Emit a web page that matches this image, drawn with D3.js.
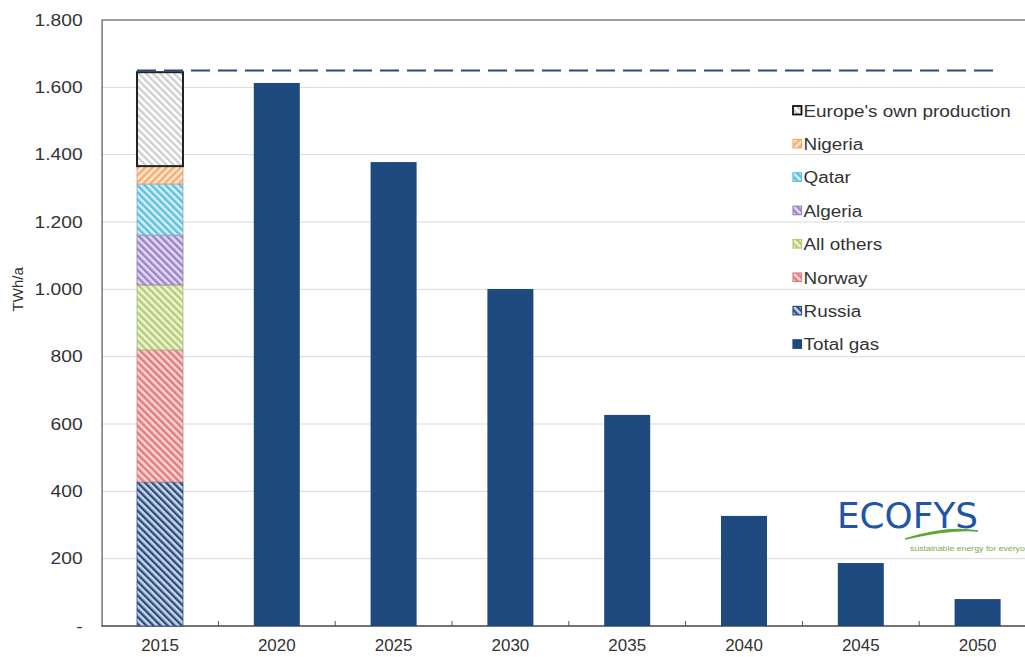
<!DOCTYPE html>
<html><head><meta charset="utf-8">
<script src="https://cdn.jsdelivr.net/npm/d3@7"></script>
<style>
html,body{margin:0;padding:0;background:#fff;overflow:hidden}
svg{display:block;font-family:"Liberation Sans",Arial,sans-serif}
</style></head>
<body>
<svg id="c" width="1025" height="657"></svg>
<script>
const years = ["2015","2020","2025","2030","2035","2040","2045","2050"];
const totalGas = [null,1613,1378,1001,627,327,187,80];
const sources2015 = ["Russia","Norway","All others","Algeria","Qatar","Nigeria","Europe's own production"];
const values2015 = [428,392,193,148,152,53,279];
const referenceLevel = 1650;
const yTicks = [0,200,400,600,800,1000,1200,1400,1600,1800];
const legendItems = ["Europe's own production","Nigeria","Qatar","Algeria","All others","Norway","Russia","Total gas"];

const style = {
  "Russia":{bg:"#c9d6ea",fg:"#2b4c7e",stroke:"#3b5680",dir:1},
  "Norway":{bg:"#f7d2d0",fg:"#de7d7a",stroke:"#c98c8a",dir:1},
  "All others":{bg:"#eef3d6",fg:"#b4cc72",stroke:"#a8b88a",dir:1},
  "Algeria":{bg:"#e2d8f0",fg:"#9a82c6",stroke:"#8f83aa",dir:1},
  "Qatar":{bg:"#d2eef6",fg:"#5ebfd9",stroke:"#8aaec0",dir:1},
  "Nigeria":{bg:"#fde6cf",fg:"#f3ad6c",stroke:"#c9a58a",dir:-1},
  "Europe's own production":{bg:"#ffffff",fg:"#cfcfcf",stroke:"#222",dir:1},
  "Total gas":{solid:"#1f4a7f"}
};

const svg = d3.select("#c");
const W=1025,H=657;
const x0=101.6, x1=1036, yTop=20, yBot=626;
const x = d3.scaleBand().domain(years).range([x0,x1]).paddingInner(0.606).paddingOuter(0.303);
const y = d3.scaleLinear().domain([0,1800]).range([yBot,yTop]);

function stretch(sel, f){
  sel.each(function(){
    const L = this.getComputedTextLength();
    d3.select(this).attr("textLength", L*f).attr("lengthAdjust","spacingAndGlyphs");
  });
}

const defs = svg.append("defs");
Object.entries(style).forEach(([k,s],i)=>{
  if(s.solid) return;
  const p = defs.append("pattern").attr("id","pat"+i).attr("patternUnits","userSpaceOnUse")
    .attr("width",5).attr("height",5).attr("patternTransform","rotate("+(s.dir>0?-45:45)+")");
  p.append("rect").attr("width",5).attr("height",5).attr("fill",s.bg);
  p.append("rect").attr("width",2.4).attr("height",5).attr("fill",s.fg);
  s.fill="url(#pat"+i+")";
});
style["Total gas"].fill = style["Total gas"].solid;

// gridlines
svg.append("g").selectAll("line").data(yTicks.filter(d=>d>0)).join("line")
  .attr("x1",x0).attr("x2",W).attr("y1",d=>y(d)).attr("y2",d=>y(d))
  .attr("stroke","#d9d9d9").attr("stroke-width",1);

// y axis
const yAxis = svg.append("g").attr("transform","translate("+x0+",0)")
  .call(d3.axisLeft(y).tickValues(yTicks).tickSize(0).tickPadding(19)
    .tickFormat(d=>d===0?"-":d3.format(",")(d).replace(/,/g,".")));
yAxis.select(".domain").attr("stroke","#555").attr("stroke-width",1.2);
yAxis.selectAll("text").attr("font-size",16).attr("fill","#333").attr("font-family","Liberation Sans, Arial, sans-serif");
stretch(yAxis.selectAll("text"),1.2);

// top frame
svg.append("line").attr("x1",x0).attr("x2",W).attr("y1",yTop).attr("y2",yTop).attr("stroke","#555").attr("stroke-width",1.2);

// x axis
const xAxis = svg.append("g").attr("transform","translate(0,"+yBot+")")
  .call(d3.axisBottom(x).tickSize(0).tickPadding(14));
xAxis.select(".domain").remove();
svg.append("line").attr("x1",x0).attr("x2",W).attr("y1",yBot).attr("y2",yBot).attr("stroke","#444").attr("stroke-width",1.4);
xAxis.selectAll("text").attr("font-size",16).attr("fill","#333").attr("font-family","Liberation Sans, Arial, sans-serif");
stretch(xAxis.selectAll("text"),1.06);
// category separator ticks
const step = x.step();
svg.append("g").selectAll("line").data(years.slice(1)).join("line")
  .attr("x1",d=>x(d)+x.bandwidth()/2-step/2).attr("x2",d=>x(d)+x.bandwidth()/2-step/2)
  .attr("y1",yBot).attr("y2",yBot-5).attr("stroke","#555");

svg.append("text").attr("transform","translate(23,"+y(1000)+") rotate(-90)")
  .attr("text-anchor","middle").attr("font-size",15).attr("fill","#333").text("TWh/a");

// stacked 2015
let acc=0;
const stackData = sources2015.map((s,i)=>{const d={s,y0:acc,y1:acc+values2015[i]};acc+=values2015[i];return d;});
svg.append("g").selectAll("rect").data(stackData).join("rect")
  .attr("x",x("2015")).attr("width",x.bandwidth())
  .attr("y",d=>y(d.y1)).attr("height",d=>y(d.y0)-y(d.y1))
  .attr("fill",d=>style[d.s].fill).attr("stroke",d=>style[d.s].stroke)
  .attr("stroke-width",d=>d.s==="Europe's own production"?2:0.8);

// total gas bars
const tg = years.map((yr,i)=>({yr,v:totalGas[i]})).filter(d=>d.v!=null);
svg.append("g").selectAll("rect").data(tg).join("rect")
  .attr("x",d=>x(d.yr)).attr("width",x.bandwidth())
  .attr("y",d=>y(d.v)).attr("height",d=>yBot-y(d.v))
  .attr("fill",style["Total gas"].fill);

// dashed reference line
svg.append("line").attr("x1",x("2015")).attr("x2",x("2050")+x.bandwidth())
  .attr("y1",y(referenceLevel)).attr("y2",y(referenceLevel))
  .attr("stroke","#2b4a78").attr("stroke-width",2).attr("stroke-dasharray","19,8");

// legend
const lg = svg.append("g").attr("transform","translate(793,111)");
const rowH = 33.4;
legendItems.forEach((k,i)=>{
  const g = lg.append("g").attr("transform","translate(0,"+(i*rowH)+")");
  const s = style[k];
  g.append("rect").attr("x",0).attr("y",-5).attr("width",8.5).attr("height",8.5)
    .attr("fill",s.fill).attr("stroke",k==="Total gas"?s.solid:(k==="Europe's own production"?"#111":s.fg)).attr("stroke-width",k==="Europe's own production"?1.8:1.2);
  const t = g.append("text").attr("x",10.5).attr("y",5.5).attr("font-size",16).attr("fill","#333").text(k);
  stretch(t,1.18);
});

// ECOFYS logo
const logo = svg.append("g");
logo.append("text").attr("x",837).attr("y",528).attr("font-family","DejaVu Sans, Verdana, sans-serif")
  .attr("font-size",36).attr("fill","#1f55a6").attr("textLength",141).attr("lengthAdjust","spacingAndGlyphs").text("ECOFYS");
logo.append("path").attr("d","M905,539 C930,531 955,527 978,531 C958,529 932,533 905,539 Z")
  .attr("fill","#5aa832").attr("stroke","#5aa832").attr("stroke-width",1.5);
const tl = logo.append("text").attr("x",910).attr("y",551).attr("font-size",7).attr("fill","#6fb04a")
  .text("sustainable energy for everyone");
stretch(tl,1.25);
</script>
</body></html>
